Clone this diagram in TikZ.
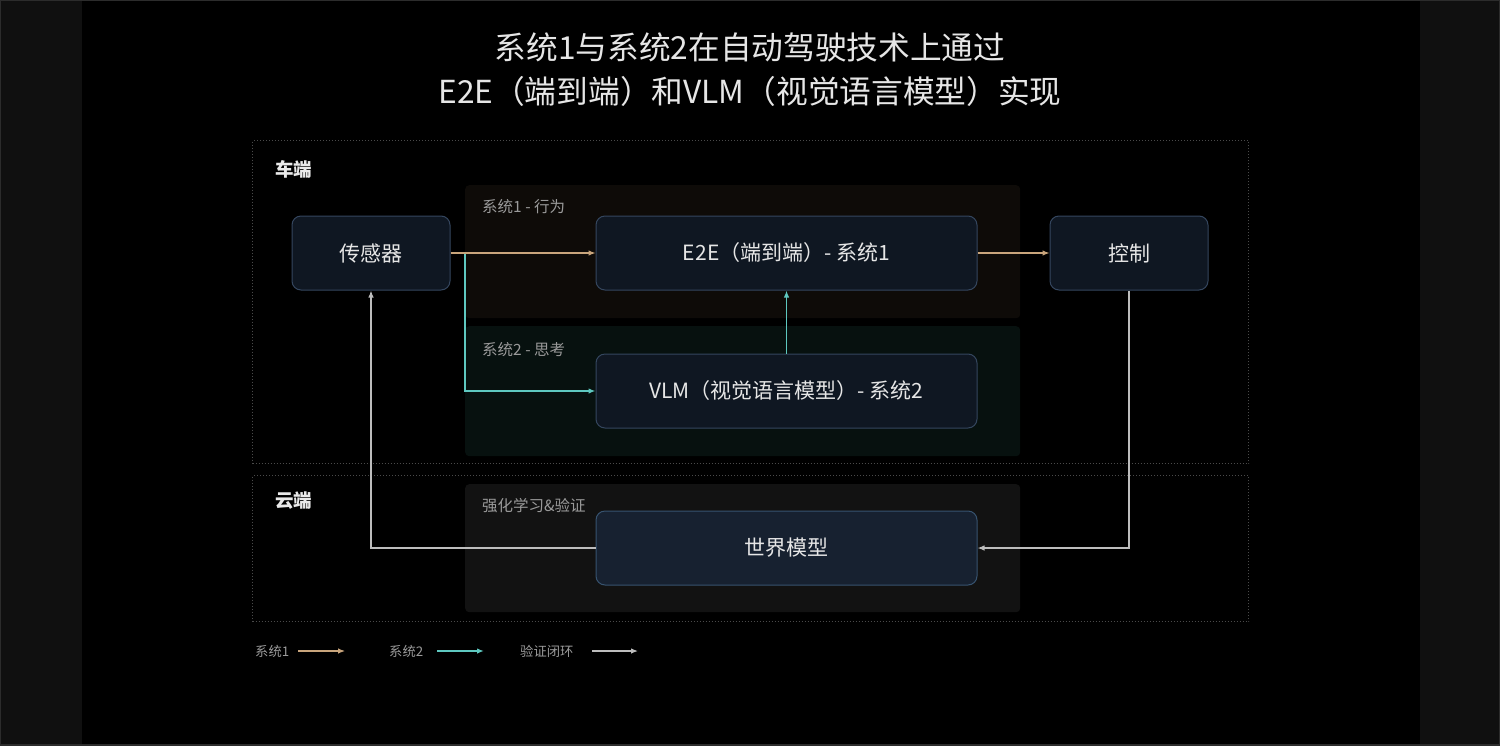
\documentclass[tikz,border=0pt]{standalone}
\usepackage{fontspec}
\setmainfont{Noto Sans CJK SC}
\usetikzlibrary{arrows.meta}
\definecolor{sidebar}{HTML}{101010}
\definecolor{framec}{HTML}{2C2C2C}
\definecolor{dotc}{HTML}{4A4A4A}
\definecolor{ponefill}{HTML}{0E0B08}
\definecolor{ptwofill}{HTML}{07110F}
\definecolor{prlfill}{HTML}{121212}
\definecolor{boxfill}{HTML}{0F1722}
\definecolor{boxline}{HTML}{34465E}
\definecolor{worldfill}{HTML}{172130}
\definecolor{worldline}{HTML}{37536F}
\definecolor{txtc}{HTML}{E6E6E6}
\definecolor{lblc}{HTML}{9A9A9A}
\definecolor{sonec}{HTML}{C9A57C}
\definecolor{stwoc}{HTML}{5EC8C0}
\definecolor{loopc}{HTML}{BDBDBD}
\begin{document}
\begin{tikzpicture}[x=1pt,y=-1pt,
  region/.style={draw=dotc, line width=1pt, dash pattern=on 1pt off 2pt, anchor=north west, inner sep=0pt},
  panel/.style={rounded corners=4pt, anchor=north west, inner sep=0pt, draw=none},
  blk/.style={draw=boxline, fill=boxfill, line width=1pt, rounded corners=9pt, minimum height=74pt, inner sep=0pt, text=txtc, font=\fontsize{21}{24}\selectfont},
  regionlbl/.style={anchor=west, text=txtc!85, font=\fontsize{18.5}{21}\selectfont\bfseries, inner sep=0pt},
  panellbl/.style={anchor=west, text=lblc, font=\fontsize{15.5}{18}\selectfont, inner sep=0pt},
  legendlbl/.style={anchor=west, text=lblc, font=\fontsize{13.3}{15}\selectfont, inner sep=0pt},
  tip/.style={-{Latex[length=7pt,width=5.5pt]}},
  sone/.style={tip, draw=sonec, line width=1.1pt},
  stwo/.style={tip, draw=stwoc, line width=1.4pt},
  vloop/.style={tip, draw=loopc, line width=1.2pt}
]
% background
\useasboundingbox (0,0) rectangle (1500,745);
\fill[sidebar] (0,0) rectangle (1500,745);
\fill[black] (82,0) rectangle (1420,745);
\draw[framec, line width=2pt] (0,0) rectangle (1500,745);

% title
\node[text=txtc, align=center, font=\fontsize{31.7}{44}\selectfont] (title) at (750,70)
  {系统1与系统2在自动驾驶技术上通过\\E2E（端到端）和VLM（视觉语言模型）实现};

% regions
\node[region, minimum width=996pt, minimum height=323pt] (car) at (252,140) {};
\node[region, minimum width=996pt, minimum height=146pt] (cloud) at (252,475) {};
\node[regionlbl] (carlbl) at (275,169) {车端};
\node[regionlbl] (cloudlbl) at (275,501) {云端};

% panels
\node[panel, fill=ponefill, minimum width=555pt, minimum height=133pt] (pone) at (465,185) {};
\node[panel, fill=ptwofill, minimum width=555pt, minimum height=130pt] (ptwo) at (465,326) {};
\node[panel, fill=prlfill, minimum width=555pt, minimum height=128pt] (prl) at (465,484) {};
\node[panellbl] (ponelbl) at (482,207) {系统1 - 行为};
\node[panellbl] (ptwolbl) at (482,350) {系统2 - 思考};
\node[panellbl] (prllbl) at (482,506) {强化学习\&验证};

% blocks
\node[blk, minimum width=158pt] (sensor) at (371,253) {传感器};
\node[blk, minimum width=381pt] (e2e) at (786.5,253) {E2E（端到端）- 系统1};
\node[blk, minimum width=158pt] (ctrl) at (1129,253) {控制};
\node[blk, minimum width=381pt] (vlm) at (786.5,391) {VLM（视觉语言模型）- 系统2};
\node[blk, minimum width=381pt, fill=worldfill, draw=worldline] (world) at (786.5,548) {世界模型};

% connectors
\coordinate (branch) at (465,253);
\draw[stwo] (branch) |- (vlm.west);
\draw[stwo] (vlm.north) -- (e2e.south);
\draw[sone] (sensor.east) -- (e2e.west);
\draw[sone] (e2e.east) -- (ctrl.west);
\draw[vloop] (ctrl.south) |- (world.east);
\draw[vloop] (world.west) -| (sensor.south);

% legend
\node[legendlbl] (lgone) at (255,651) {系统1};
\node[legendlbl] (lgtwo) at (389,651) {系统2};
\node[legendlbl] (lgloop) at (520,651) {验证闭环};
\coordinate (lgonea) at (298,651);
\coordinate (lgoneb) at (345,651);
\coordinate (lgtwoa) at (437,651);
\coordinate (lgtwob) at (484,651);
\coordinate (lgloopa) at (592,651);
\coordinate (lgloopb) at (638,651);
\draw[sone] (lgonea) -- (lgoneb);
\draw[stwo] (lgtwoa) -- (lgtwob);
\draw[vloop] (lgloopa) -- (lgloopb);
\end{tikzpicture}
\end{document}
